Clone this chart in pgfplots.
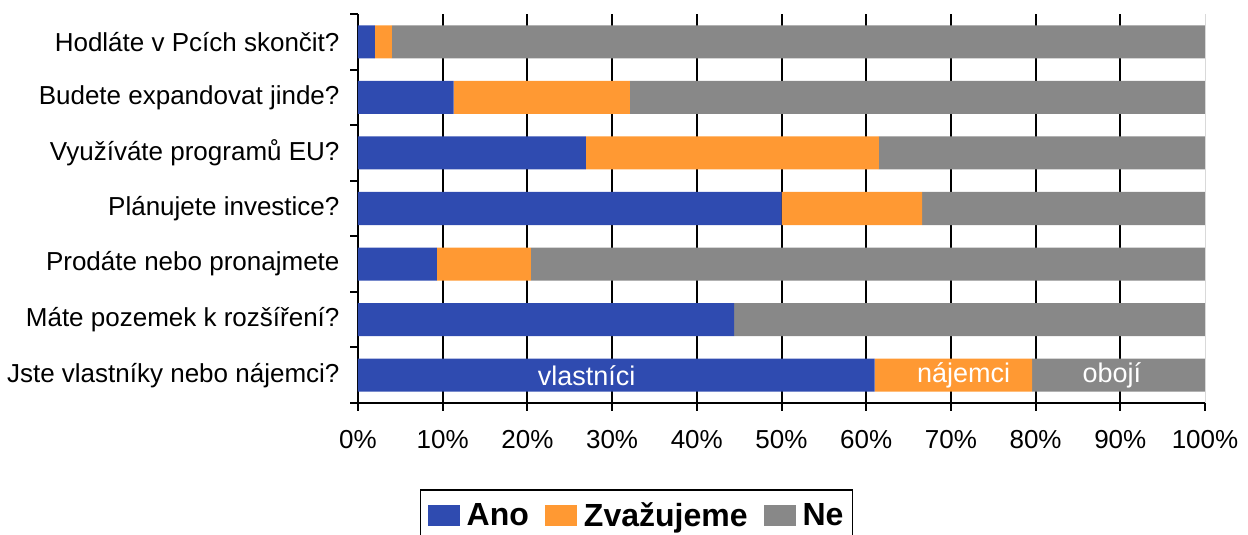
\documentclass[border=0pt]{standalone}
\usepackage{pgfplots}
\pgfplotsset{compat=1.18}
\usepackage{fontspec}
\setmainfont{Liberation Sans}
\definecolor{cano}{RGB}{47,75,176}
\definecolor{czv}{RGB}{255,153,51}
\definecolor{cne}{RGB}{136,136,136}
\begin{document}
\begin{tikzpicture}[x=1pt,y=1pt]
\clip (0,0) rectangle (1248,535);
\begin{axis}[
  at={(358pt,132pt)}, anchor=south west,
  scale only axis, width=847pt, height=389pt,
  xbar stacked, bar width=0.594,
  xmin=0, xmax=100, ymin=-0.5, ymax=6.5,
  axis x line*=bottom, axis y line*=left,
  axis line style={line width=2pt, black},
  xtick={0,10,...,90},
  xticklabels={0\%,10\%,20\%,30\%,40\%,50\%,60\%,70\%,80\%,90\%},
  extra x ticks={100}, extra x tick labels={100\%},
  extra x tick style={grid=none},
  xmajorgrids, grid style={black, line width=2pt},
  ytick={0,...,6},
  yticklabels={Jste vlastníky nebo nájemci?, Máte pozemek k rozšíření?, Prodáte nebo pronajmete, Plánujete investice?, Využíváte programů EU?, Budete expandovat jinde?, Hodláte v Pcích skončit?},
  minor ytick={-0.5,0.5,...,6.5},
  tick align=outside,
  major tick length=8pt,
  minor tick length=8pt,
  tick style={line width=2pt, black},
  major y tick style={draw=none},
  ticklabel style={font=\fontsize{26pt}{30pt}\selectfont},
  yticklabel style={xshift=-7pt},
  xticklabel style={yshift=-16pt},
  legend style={at={(0.0732,-0.2211)}, anchor=north west, draw=black, line width=1.5pt,
    font=\fontsize{32pt}{36pt}\selectfont\bfseries, legend columns=3,
    inner xsep=7pt, inner ysep=11pt,
    /tikz/every even column/.append style={column sep=14pt},
    /tikz/every odd column/.append style={column sep=5pt}},
  legend image code/.code={\fill[#1] (0pt,-10.5pt) rectangle (32pt,10.5pt);},
  after end axis/.code={
    \draw[black!15, line width=1pt] (axis cs:100,-0.5) -- (axis cs:100,6.5);
    \node[text=white, font=\fontsize{27pt}{30pt}\selectfont] at (axis cs:27,0) {vlastníci};
    \node[text=white, font=\fontsize{27pt}{30pt}\selectfont] at (axis cs:71.5,0) {nájemci};
    \node[text=white, font=\fontsize{27pt}{30pt}\selectfont] at (axis cs:89,0) {obojí};
  },
]
\addplot[fill=cano, draw=none] coordinates {(61,0) (44.4,1) (9.3,2) (50,3) (26.9,4) (11.3,5) (2,6)};
\addplot[fill=czv, draw=none] coordinates {(18.6,0) (0,1) (11.1,2) (16.6,3) (34.6,4) (20.8,5) (2,6)};
\addplot[fill=cne, draw=none] coordinates {(20.4,0) (55.6,1) (79.6,2) (33.4,3) (38.5,4) (67.9,5) (96,6)};
\legend{Ano, Zvažujeme, Ne}
\end{axis}
\end{tikzpicture}
\end{document}
